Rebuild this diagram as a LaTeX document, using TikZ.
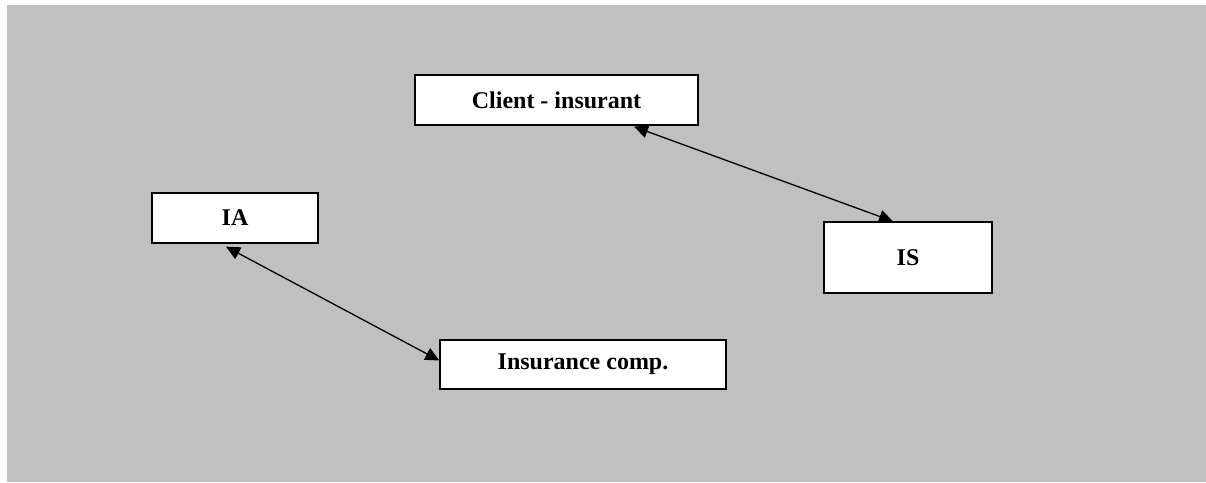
\documentclass[tikz,border=0pt]{standalone}
\usepackage{fontspec}
\setmainfont{Liberation Serif}
\usetikzlibrary{arrows.meta}
\definecolor{bggray}{HTML}{C0C0C0}
\begin{document}
\begin{tikzpicture}[x=1pt,y=-1pt,
  box/.style={draw=black,line width=1.3pt,fill=white,inner sep=0pt,
    font=\fontsize{24}{28}\selectfont\bfseries},
  link/.style={line width=1.3pt,{Triangle[length=14pt,width=13pt]}-{Triangle[length=14pt,width=13pt]}}]
\useasboundingbox (0,0) rectangle (1206,482);
\fill[white] (0,0) rectangle (1206,482);
\fill[bggray] (7,5) rectangle (1206,482);
\node[box,minimum width=283pt,minimum height=50pt] (client) at (556.5,100) {Client - insurant};
\node[box,minimum width=166pt,minimum height=50pt] (ia) at (235,218) {IA};
\node[box,minimum width=168pt,minimum height=71pt] (is) at (908,257.5) {IS};
\node[box,minimum width=286pt,minimum height=49pt] (ic) at (583,364.5) {Insurance comp.};
\coordinate (a1) at ([xshift=77.5pt,yshift=-1pt]client.south);
\coordinate (a2) at ([xshift=-15pt]is.north);
\coordinate (b1) at ([xshift=-9pt,yshift=-3pt]ia.south);
\coordinate (b2) at ([yshift=4pt]ic.west);
\draw[link] (a1) -- (a2);
\draw[link] (b1) -- (b2);
\end{tikzpicture}
\end{document}
